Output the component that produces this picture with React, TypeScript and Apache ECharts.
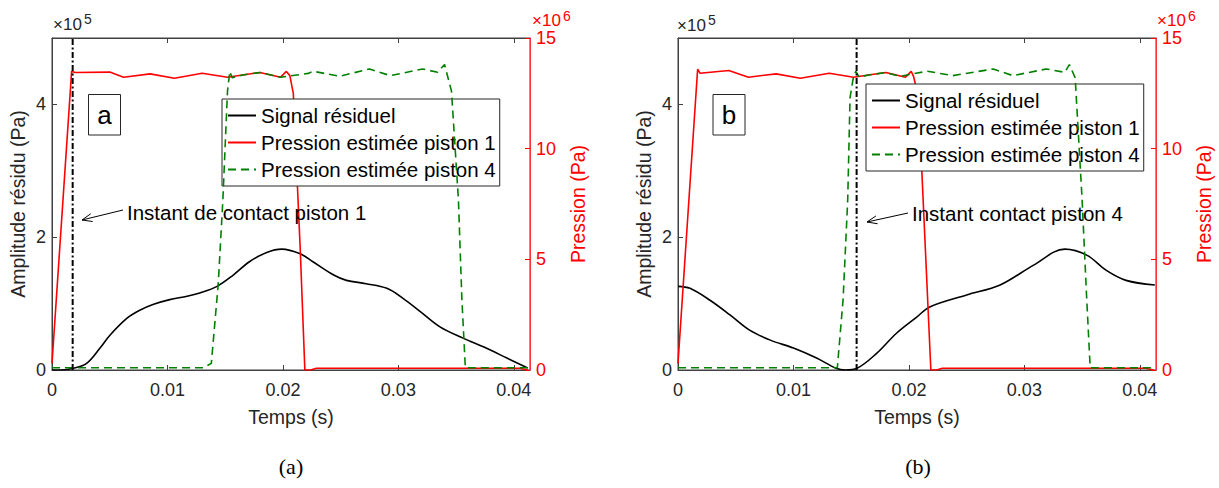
import React, { useEffect, useRef } from "react";
import * as echarts from "echarts";

// ---------- data ----------
const X_MAX = 0.0414;
const xTicks = [0, 0.01, 0.02, 0.03, 0.04];
const leftTicks = [0, 2, 4];
const rightTicks = [0, 5, 10, 15];

const NAME_SIG = "Signal résiduel";
const NAME_P1 = "Pression estimée piston 1";
const NAME_P4 = "Pression estimée piston 4";

// plot (a) — residual signal (x1e5 Pa)
const aSigT = [0, 0.0008, 0.00185, 0.003, 0.00416, 0.005, 0.0065, 0.0076, 0.0088, 0.0102, 0.0117, 0.0128, 0.0143, 0.0157, 0.0171, 0.0186, 0.0199, 0.0215, 0.0226, 0.0244, 0.0255, 0.0272, 0.029, 0.0304, 0.0319, 0.0336, 0.0356, 0.0376, 0.0394, 0.0412];
const aSigV = [0, 0, 0.025, 0.1, 0.33, 0.52, 0.78, 0.9, 0.99, 1.06, 1.11, 1.16, 1.26, 1.43, 1.63, 1.77, 1.82, 1.75, 1.63, 1.43, 1.35, 1.3, 1.23, 1.08, 0.88, 0.65, 0.48, 0.33, 0.18, 0.03];
// plot (a) — piston 1 pressure (x1e6 Pa)
const aP1T = [0, 0.0017, 0.002, 0.005, 0.0062, 0.0085, 0.0106, 0.013, 0.0152, 0.0165, 0.018, 0.0198, 0.0203, 0.0206, 0.0209, 0.0215, 0.0219, 0.0224, 0.0229, 0.0405, 0.0412];
const aP1V = [0.3, 13.5, 13.44, 13.46, 13.23, 13.38, 13.18, 13.41, 13.23, 13.33, 13.44, 13.23, 13.49, 13.3, 12.5, 5.45, 0, 0, 0.08, 0.08, 0];
// plot (a) — piston 4 pressure (x1e6 Pa)
const aP4T = [0, 0.0131, 0.0138, 0.0144, 0.0148, 0.0152, 0.0154, 0.0156, 0.0165, 0.018, 0.0198, 0.0222, 0.0226, 0.0249, 0.0275, 0.0293, 0.0321, 0.0334, 0.034, 0.0346, 0.0352, 0.0355, 0.0358, 0.0412];
const aP4V = [0.1, 0.1, 0.3, 3.9, 7.7, 12.6, 13.49, 13.2, 13.33, 13.44, 13.23, 13.4, 13.5, 13.27, 13.6, 13.3, 13.6, 13.45, 13.8, 12.6, 7.7, 3.2, 0.1, 0.1];
const aContact = 0.00179;

// plot (b)
const bSigT = [0, 0.00104, 0.00277, 0.0045, 0.0062, 0.008, 0.01, 0.012, 0.0137, 0.0145, 0.0155, 0.0172, 0.0189, 0.0207, 0.0218, 0.025, 0.0279, 0.0308, 0.0335, 0.0354, 0.0371, 0.0388, 0.0413];
const bSigV = [1.26, 1.23, 1.05, 0.83, 0.6, 0.45, 0.33, 0.18, 0.025, 0, 0.025, 0.25, 0.55, 0.8, 0.95, 1.13, 1.28, 1.58, 1.82, 1.73, 1.5, 1.35, 1.28];
const bP1T = [0, 0.0017, 0.0019, 0.0044, 0.0061, 0.0085, 0.0106, 0.0131, 0.0152, 0.0165, 0.018, 0.0197, 0.0202, 0.0204, 0.0207, 0.0211, 0.0219, 0.0224, 0.0229, 0.0405, 0.0412];
const bP1V = [0.3, 13.59, 13.41, 13.53, 13.23, 13.38, 13.18, 13.41, 13.23, 13.33, 13.44, 13.23, 13.49, 13.27, 12.6, 9.2, 0, 0, 0.08, 0.08, 0];
const bP4T = [0, 0.0138, 0.0143, 0.0147, 0.0149, 0.0152, 0.0154, 0.0157, 0.0165, 0.018, 0.0192, 0.0216, 0.0238, 0.0273, 0.029, 0.0319, 0.0335, 0.0339, 0.0344, 0.035, 0.0354, 0.0357, 0.0412];
const bP4V = [0.1, 0.1, 3.2, 7.7, 12.3, 13.27, 13.49, 13.23, 13.33, 13.44, 13.27, 13.5, 13.3, 13.6, 13.3, 13.6, 13.45, 13.8, 13.2, 7.7, 3.2, 0.1, 0.1];
const bContact = 0.01547;

// ---------- styling ----------
const FONT = "Liberation Sans";
const AXIS_GRAY = "#404040";
const TEXT_GRAY = "#262626";
const RED = "#ff0000";
const GREEN = "#008000";

const zip = (t: number[], v: number[]) => t.map((x, i) => [x, v[i]]);

function xAxes(gridIndex: number) {
  return [
    {
      type: "value", gridIndex, min: 0, max: X_MAX, position: "bottom",
      axisLine: { show: true, onZero: false, lineStyle: { color: AXIS_GRAY, width: 1 } },
      axisTick: { show: true, inside: true, length: 5, customValues: xTicks, lineStyle: { color: AXIS_GRAY } },
      axisLabel: { customValues: xTicks, margin: 11, fontSize: 18, color: TEXT_GRAY, fontFamily: FONT, formatter: (v: number) => String(v) },
      splitLine: { show: false },
      name: "Temps (s)", nameLocation: "middle", nameGap: 37,
      nameTextStyle: { fontSize: 19.5, color: TEXT_GRAY, fontFamily: FONT },
    },
    {
      type: "value", gridIndex, min: 0, max: X_MAX, position: "top",
      axisLine: { show: true, onZero: false, lineStyle: { color: AXIS_GRAY, width: 1 } },
      axisTick: { show: true, inside: true, length: 5, customValues: xTicks, lineStyle: { color: AXIS_GRAY } },
      axisLabel: { show: false },
      splitLine: { show: false },
    },
  ];
}

function yAxes(gridIndex: number) {
  return [
    {
      type: "value", gridIndex, min: 0, max: 5, position: "left",
      axisLine: { show: true, onZero: false, lineStyle: { color: AXIS_GRAY, width: 1 } },
      axisTick: { show: true, inside: true, length: 5, customValues: leftTicks, lineStyle: { color: AXIS_GRAY } },
      axisLabel: { customValues: leftTicks, margin: 6, fontSize: 18, lineHeight: 14, color: TEXT_GRAY, fontFamily: FONT },
      splitLine: { show: false },
      name: "Amplitude résidu (Pa)", nameLocation: "middle", nameGap: 24,
      nameTextStyle: { fontSize: 19.5, color: TEXT_GRAY, fontFamily: FONT },
    },
    {
      type: "value", gridIndex, min: 0, max: 15, position: "right",
      axisLine: { show: true, onZero: false, lineStyle: { color: "#ff3333", width: 1 } },
      axisTick: { show: true, inside: true, length: 5, customValues: rightTicks, lineStyle: { color: RED } },
      axisLabel: { customValues: rightTicks, margin: 6, fontSize: 18, lineHeight: 14, padding: [4, 0, 0, 0], color: RED, fontFamily: FONT },
      splitLine: { show: false },
      name: "Pression (Pa)", nameLocation: "middle", nameGap: 38,
      nameTextStyle: { fontSize: 19.5, color: RED, fontFamily: FONT },
    },
  ];
}

function seriesFor(p: number, sigT: number[], sigV: number[], p1T: number[], p1V: number[], p4T: number[], p4V: number[], contact: number) {
  const xi = p * 2;
  const yl = p * 2;
  const yr = p * 2 + 1;
  return [
    {
      name: NAME_SIG, type: "line", xAxisIndex: xi, yAxisIndex: yl, data: zip(sigT, sigV),
      symbol: "none", smooth: 0.35, lineStyle: { color: "#000", width: 1.6 }, itemStyle: { color: "#000" }, z: 2,
    },
    {
      name: NAME_P1, type: "line", xAxisIndex: xi, yAxisIndex: yr, data: zip(p1T, p1V),
      symbol: "none", lineStyle: { color: RED, width: 1.6 }, itemStyle: { color: RED }, z: 3,
    },
    {
      name: NAME_P4, type: "line", xAxisIndex: xi, yAxisIndex: yr, data: zip(p4T, p4V),
      symbol: "none", lineStyle: { color: GREEN, width: 1.6, type: [8, 5] }, itemStyle: { color: GREEN }, z: 4,
    },
    {
      name: "contact", type: "line", xAxisIndex: xi, yAxisIndex: yl, data: [[contact, 0], [contact, 5]],
      symbol: "none", lineStyle: { color: "#000", width: 2, type: [6, 2.5, 2, 2.5] }, z: 5,
    },
  ];
}

function legendAt(left: number, top: number) {
  return {
    orient: "vertical", left, top,
    data: [NAME_SIG, NAME_P1, NAME_P4],
    itemWidth: 28, itemHeight: 14, itemGap: 6,
    backgroundColor: "#fff", borderColor: TEXT_GRAY, borderWidth: 1, borderRadius: 0,
    padding: [6, 4, 6, 5],
    selectedMode: false,
    itemStyle: { opacity: 0 },
    textStyle: { fontSize: 20.5, color: "#000", fontFamily: FONT },
  };
}

function arrow(x1: number, y1: number, x2: number, y2: number) {
  const dx = x2 - x1, dy = y2 - y1;
  const len = Math.hypot(dx, dy);
  const ux = dx / len, uy = dy / len;
  const bx = x2 - ux * 10, by = y2 - uy * 10;
  const px = -uy * 4, py = ux * 4;
  return [
    { type: "line", shape: { x1, y1, x2, y2 }, style: { stroke: "#000", lineWidth: 1 }, z: 10 },
    { type: "polyline", shape: { points: [[bx + px, by + py], [x2, y2], [bx - px, by - py]] }, style: { stroke: "#000", fill: null, lineWidth: 1 }, z: 10 },
  ];
}

function labelBox(x: number, y: number, w: number, h: number, txt: string) {
  return [
    { type: "rect", shape: { x, y, width: w, height: h }, style: { fill: "#fff", stroke: TEXT_GRAY, lineWidth: 1 }, z: 10 },
    { type: "text", x: x + w / 2, y: y + h / 2, style: { text: txt, fontSize: 26, fontFamily: FONT, fill: "#000", align: "center", verticalAlign: "middle" }, z: 11 },
  ];
}

function expo(x: number, y: number, exp: string, color: string) {
  return [
    { type: "text", x, y, z: 10, style: { text: "×10", fontSize: 17, lineHeight: 12, fontFamily: FONT, fill: color, align: "left", verticalAlign: "middle" } },
    { type: "text", x: x + 31, y: y - 5, z: 10, style: { text: exp, fontSize: 14, lineHeight: 10, fontFamily: FONT, fill: color, align: "left", verticalAlign: "middle" } },
  ];
}

export default function App() {
  const ref = useRef<HTMLDivElement>(null);
  useEffect(() => {
    if (!ref.current) return;
    const chart = echarts.init(ref.current, undefined, { renderer: "svg" });
    const option: any = {
      animation: false,
      textStyle: { fontFamily: FONT },
      grid: [
        { left: 52, top: 38, width: 478, height: 332, show: true, borderColor: AXIS_GRAY, borderWidth: 1, backgroundColor: "transparent", containLabel: false, outerBoundsMode: "none" },
        { left: 678, top: 38, width: 478, height: 332, show: true, borderColor: AXIS_GRAY, borderWidth: 1, backgroundColor: "transparent", containLabel: false, outerBoundsMode: "none" },
      ],
      xAxis: [...xAxes(0), ...xAxes(1)],
      yAxis: [...yAxes(0), ...yAxes(1)],
      legend: [legendAt(222, 99), legendAt(866, 84)],
      series: [
        ...seriesFor(0, aSigT, aSigV, aP1T, aP1V, aP4T, aP4V, aContact),
        ...seriesFor(1, bSigT, bSigV, bP1T, bP1V, bP4T, bP4V, bContact),
      ],
      graphic: [
        ...labelBox(88.5, 94.5, 32, 40.5, "a"),
        ...labelBox(713, 94.5, 32, 40.5, "b"),
        ...arrow(123, 210, 82, 220),
        { type: "text", x: 127, y: 212, style: { text: "Instant de contact piston 1", fontSize: 20.5, fontFamily: FONT, fill: "#000", align: "left", verticalAlign: "middle" }, z: 10 },
        ...arrow(908, 213, 867, 222),
        { type: "text", x: 912, y: 213, style: { text: "Instant contact piston 4", fontSize: 20.5, fontFamily: FONT, fill: "#000", align: "left", verticalAlign: "middle" }, z: 10 },
        ...expo(53, 24, "5", TEXT_GRAY),
        ...expo(532, 20.5, "6", RED),
        ...expo(677, 25, "5", TEXT_GRAY),
        ...expo(1157, 20.5, "6", RED),
        { type: "text", x: 291, y: 466, style: { text: "(a)", fontSize: 22, fontFamily: "Liberation Serif", fill: "#000", align: "center", verticalAlign: "middle" } },
        { type: "text", x: 918, y: 466, style: { text: "(b)", fontSize: 22, fontFamily: "Liberation Serif", fill: "#000", align: "center", verticalAlign: "middle" } },
      ],
    };
    chart.setOption(option);
    return () => chart.dispose();
  }, []);
  return <div ref={ref} style={{ position: "fixed", left: 0, top: 0, width: 1219, height: 488, background: "#fff" }} />;
}
